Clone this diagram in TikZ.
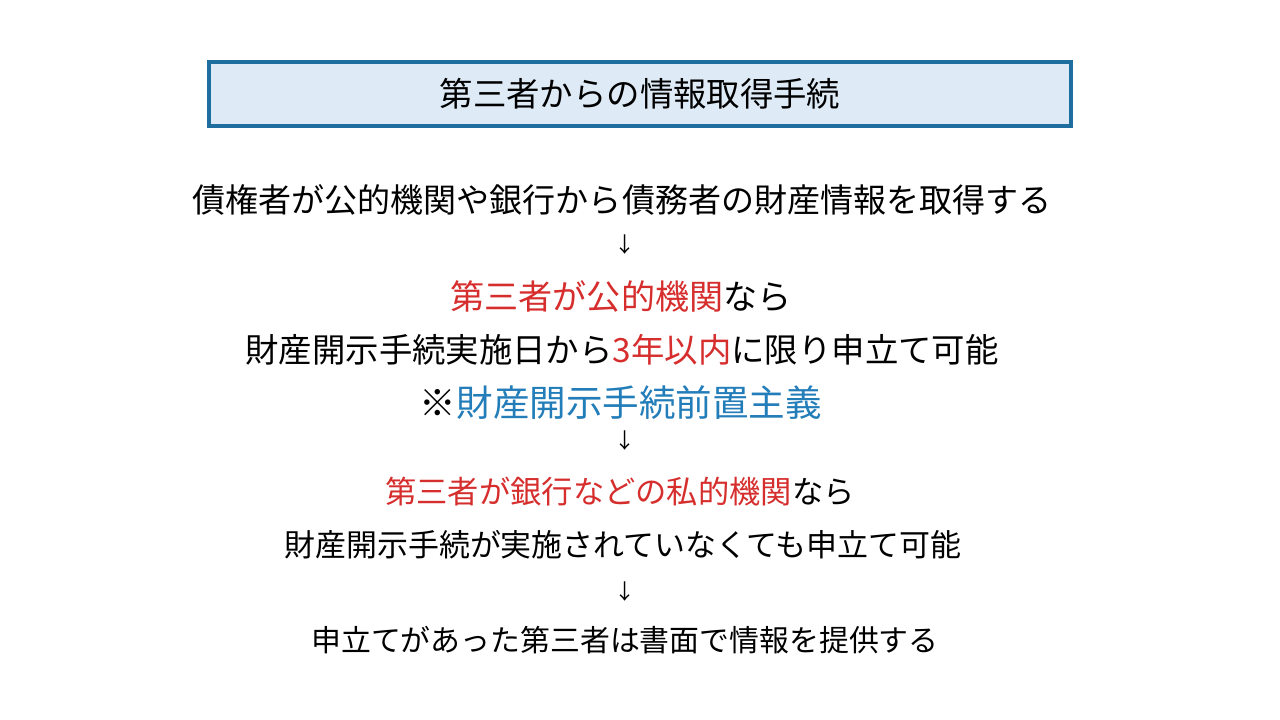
\documentclass[tikz,border=0pt]{standalone}
\usepackage{fontspec}
\setmainfont{Noto Sans CJK JP}
\usetikzlibrary{positioning}
\definecolor{titleblue}{RGB}{31,110,160}
\definecolor{titlefill}{RGB}{222,234,246}
\definecolor{keyred}{RGB}{214,45,45}
\definecolor{keyblue}{RGB}{35,125,185}

\begin{document}
\begin{tikzpicture}[
  titlebox/.style={rectangle,draw=titleblue,line width=1.2pt,fill=titlefill,minimum width=8.62cm,minimum height=0.64cm,inner sep=0pt,font=\fontsize{9.5}{11}\selectfont},
  textline/.style={inner sep=0pt,font=\fontsize{#1}{10}\selectfont},
  textline/.default=8.8,
  arrowmark/.style={inner sep=0pt,font=\fontsize{6}{7}\selectfont},
]
\useasboundingbox (0,0) rectangle (12.8,7.2);

\node [titlebox] (title) at (6.40,6.26) {第三者からの情報取得手続};

\node [textline=9.4] (req) at (6.22,5.20) {債権者が公的機関や銀行から債務者の財産情報を取得する};
\node [arrowmark] (arr1) at (6.25,4.75) {↓};
\node [textline=9.7] (pub) at (6.21,4.23) {\textcolor{keyred}{第三者が公的機関}なら};
\node [textline=9.5] (pubrule) at (6.22,3.70) {財産開示手続実施日から\textcolor{keyred}{3年以内}に限り申立て可能};
\node [textline=10.4] (pubnote) at (6.21,3.17) {※\textcolor{keyblue}{財産開示手続前置主義}};
\node [arrowmark] (arr2) at (6.25,2.79) {↓};
\node [textline=8.9] (priv) at (6.20,2.28) {\textcolor{keyred}{第三者が銀行などの私的機関}なら};
\node [textline] (privrule) at (6.23,1.75) {財産開示手続が実施されていなくても申立て可能};
\node [arrowmark] (arr3) at (6.25,1.28) {↓};
\node [textline=8.5] (provide) at (6.25,0.80) {申立てがあった第三者は書面で情報を提供する};
\end{tikzpicture}
\end{document}
